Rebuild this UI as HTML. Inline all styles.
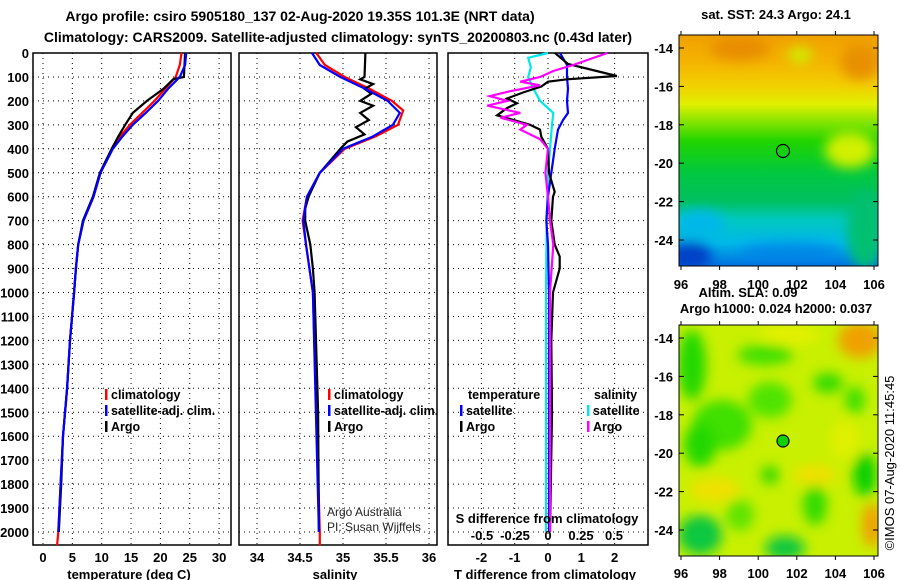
<!DOCTYPE html>
<html><head><meta charset="utf-8"><style>
body{margin:0;background:#fff;}
svg{display:block;font-family:"Liberation Sans",sans-serif;}
.b{font-weight:bold;}
</style></head><body>
<svg id="c" width="900" height="580" viewBox="0 0 900 580">
<defs>
<linearGradient id="sstg" x1="0" y1="0" x2="0" y2="1">
<stop offset="0" stop-color="#f0a000"/><stop offset="0.12" stop-color="#f4b400"/><stop offset="0.22" stop-color="#f2d000"/>
<stop offset="0.3" stop-color="#e0f000"/><stop offset="0.38" stop-color="#80e400"/><stop offset="0.46" stop-color="#20d400"/>
<stop offset="0.6" stop-color="#00c840"/><stop offset="0.72" stop-color="#00c060"/><stop offset="0.8" stop-color="#00c8c0"/>
<stop offset="0.9" stop-color="#00b8e8"/><stop offset="1" stop-color="#0070e0"/></linearGradient>
<filter id="bl" x="-50%" y="-50%" width="200%" height="200%"><feGaussianBlur stdDeviation="6"/></filter>
<clipPath id="cm1"><rect x="679" y="35" width="199" height="231"/></clipPath>
<clipPath id="cm2"><rect x="679" y="325" width="199" height="231"/></clipPath>
</defs>
<g id="root"></g>
</svg>
<script>
// depth levels (m)
const depthTicks=[0,100,200,300,400,500,600,700,800,900,1000,1100,1200,1300,1400,1500,1600,1700,1800,1900,2000];
const tempTicks=[0,5,10,15,20,25,30];
const salTicks=[34,34.5,35,35.5,36];
const tdTicks=[-2,-1,0,1,2];
const sdTicks=[-0.5,-0.25,0,0.25,0.5];
const sdTickLabels=["-0.5","-0.25","0","0.25","0.5"];
// temperature panel
const tArgoD=[0,100,110,150,200,250,300,350,400,500,600,700,800,900,1000,1200,1400,1600,1800,2000];
const tArgoV=[24.2,24.0,22.2,20.5,17.7,15.3,14.0,12.8,11.7,9.7,8.5,6.8,6.0,5.6,5.3,4.6,4.1,3.4,3.1,2.7];
const tClimD=[0,50,100,150,200,250,300,350,400,500,600,700,800,900,1000,1200,1400,1600,1800,2000,2055];
const tClimV=[23.6,23.3,22.6,20.8,19.0,16.9,14.8,13.1,11.8,9.8,8.6,6.9,6.0,5.6,5.3,4.6,4.1,3.4,3.0,2.6,2.4];
const tSatD=[0,50,100,150,200,250,300,350,400,500,600,700,800,900,1000,1200,1400,1600,1800,2000];
const tSatV=[24.4,24.2,23.3,21.3,19.6,17.5,15.3,13.5,11.9,9.8,8.6,6.9,6.0,5.6,5.3,4.6,4.1,3.4,3.0,2.6];
// salinity panel
const sArgoD=[0,100,110,130,150,170,200,220,250,280,310,340,370,400,450,500,600,650,700,800,900,1000,1500,2000];
const sArgoV=[35.26,35.25,35.2,35.35,35.25,35.33,35.2,35.35,35.2,35.3,35.15,35.25,35.05,34.97,34.85,34.73,34.6,34.56,34.56,34.62,34.65,34.67,34.71,34.72];
const sClimD=[0,50,100,150,200,240,300,350,400,500,600,700,800,1000,2000,2055];
const sClimV=[34.69,34.79,35.02,35.31,35.57,35.70,35.64,35.37,35.02,34.73,34.58,34.53,34.57,34.65,34.73,34.73];
const sSatD=[0,50,100,150,200,250,300,350,400,500,600,700,800,1000,2000];
const sSatV=[34.64,34.73,34.97,35.26,35.52,35.66,35.58,35.34,35.0,34.73,34.58,34.54,34.57,34.65,34.72];
// difference panel
const dTArgoD=[0,46,96,110,120,140,165,190,210,230,260,300,320,350,400,500,580,600,700,800,850,900,1000,1200,1500,2000];
const dTArgoV=[0.21,0.6,2.07,0.57,0,-0.2,-0.75,-1.23,-0.93,-1.23,-1.53,-0.54,-0.24,-0.2,0,0.03,0.2,0.15,0.1,0.2,0.35,0.35,0.15,0.1,0.12,0.06];
const dTSatD=[0,50,100,150,200,250,280,320,400,500,600,700,800,1000,1500,2000];
const dTSatV=[0.36,0.57,0.57,0.6,0.57,0.6,0.45,0.3,0.2,0.1,0,-0.05,0,0.03,0.03,0.03];
const dSSatD=[0,20,60,100,150,200,250,300,400,500,700,1000,2000];
const dSSatV=[0,-0.15,-0.13,-0.15,-0.11,-0.06,0.04,0.03,0.015,0,-0.01,-0.015,-0.015];
const dSArgoD=[0,50,75,100,120,135,160,180,200,220,250,270,300,320,360,400,500,600,700,800,1000,1500,2000];
const dSArgoV=[0.45,0.19,0.04,-0.06,-0.21,-0.06,-0.29,-0.44,-0.31,-0.46,-0.21,-0.36,-0.16,-0.21,-0.06,0,-0.02,0,0.015,0.04,0.015,0.015,0.015];

const NS='http://www.w3.org/2000/svg';
const root=document.getElementById('root');
function mk(tag,attrs,parent){const e=document.createElementNS(NS,tag);for(const k in attrs)e.setAttribute(k,attrs[k]);(parent||root).appendChild(e);return e;}
function txt(x,y,s,attrs,parent){const e=mk('text',Object.assign({x:x,y:y},attrs||{}),parent);e.textContent=s;return e;}
const TOP=53, BOT=545;
const yD=d=>TOP+d*0.2395;
const panels=[
 {x0:33,x1:231,sx:v=>43+v*5.87,ticks:tempTicks,labels:tempTicks.map(String),title:'temperature (deg C)',name:'temperature-panel'},
 {x0:239,x1:437,sx:v=>257+(v-34)*86,ticks:salTicks,labels:salTicks.map(String),title:'salinity',name:'salinity-panel'},
 {x0:448,x1:648,sx:v=>548+v*33.3,ticks:tdTicks,labels:tdTicks.map(String),title:'T difference from climatology',name:'difference-panel'}
];
const sS=v=>548+v*132;
panels.forEach((p,pi)=>{
 const g=mk('g',{});
 
 
 depthTicks.forEach(d=>{const l=mk('line',{x1:p.x0,x2:p.x1,y1:yD(d),y2:yD(d),stroke:'#000','stroke-width':1,'stroke-dasharray':'1 4'},g);
  });
 p.ticks.forEach((t,i)=>{const l=mk('line',{x1:p.sx(t),x2:p.sx(t),y1:TOP,y2:BOT,stroke:'#000','stroke-width':1,'stroke-dasharray':'1 4'},g);
  
  const tl=txt(p.sx(t),562,p.labels[i],{'text-anchor':'middle','font-size':13,class:'b'},g);
  });
 const r=mk('rect',{x:p.x0,y:TOP,width:p.x1-p.x0,height:BOT-TOP,fill:'none',stroke:'#000','stroke-width':1.5},g);
 
 const at=txt((p.x0+p.x1)/2-3,579,p.title,{'text-anchor':'middle','font-size':13,class:'b'},g);
 
});
depthTicks.forEach(d=>{const t=txt(29,yD(d)+5,String(d),{'text-anchor':'end','font-size':13,class:'b'});
 });
function line(D,V,sx,col,name,w){const pts=D.map((d,i)=>sx(V[i]).toFixed(1)+','+yD(d).toFixed(1)).join(' ');
 const e=mk('polyline',{points:pts,fill:'none',stroke:col,'stroke-width':w||2.2,'stroke-linejoin':'miter'});
 
 }
const p0=panels[0].sx,p1=panels[1].sx,p2=panels[2].sx;
line(tClimD,tClimV,p0,'#ff0000','temp-climatology-line');
line(tArgoD,tArgoV,p0,'#000','temp-argo-line');
line(tSatD,tSatV,p0,'#0000ff','temp-satellite-line');
line(sClimD,sClimV,p1,'#ff0000','sal-climatology-line');
line(sArgoD,sArgoV,p1,'#000','sal-argo-line');
line(sSatD,sSatV,p1,'#0000ff','sal-satellite-line');
line(dSSatD,dSSatV,sS,'#00e8e8','sdiff-satellite-line');
line(dTSatD,dTSatV,p2,'#0000ff','tdiff-satellite-line');
line(dTArgoD,dTArgoV,p2,'#000','tdiff-argo-line');
line(dSArgoD,dSArgoV,sS,'#ff00ff','sdiff-argo-line');
const sdt=txt(547,523,'S difference from climatology',{'text-anchor':'middle','font-size':13,class:'b'});

sdTicks.forEach((t,i)=>{const e=txt(sS(t),540,sdTickLabels[i],{'text-anchor':'middle','font-size':13,class:'b'});
 });
function leg(x,y,col,label){const g=mk('g',{});
 
 mk('rect',{x:x,y:y-10,width:2.5,height:11,fill:col},g);
 txt(x+6,y,label,{'font-size':12.5,class:'b'},g);}
leg(105,399,'#ff0000','climatology');leg(105,415,'#0000ff','satellite-adj. clim.');leg(105,431,'#000','Argo');
leg(328,399,'#ff0000','climatology');leg(328,415,'#0000ff','satellite-adj. clim.');leg(328,431,'#000','Argo');
const lt=txt(468,399,'temperature',{'font-size':12.5,class:'b'});
leg(460,415,'#0000ff','satellite');leg(460,431,'#000','Argo');
const ls=txt(594,399,'salinity',{'font-size':12.5,class:'b'});
leg(587,415,'#00e8e8','satellite');leg(587,431,'#ff00ff','Argo');
const c1=txt(327,516,'Argo Australia',{'font-size':12,fill:'#222'});
const c2=txt(327,531,'PI: Susan Wijffels',{'font-size':12,fill:'#222'});
const t1=txt(300,21,'Argo profile: csiro 5905180_137 02-Aug-2020 19.35S 101.3E (NRT data)',{'text-anchor':'middle','font-size':14,class:'b'});

const t2=txt(338,42,'Climatology: CARS2009. Satellite-adjusted climatology: synTS_20200803.nc (0.43d later)',{'text-anchor':'middle','font-size':14,class:'b'});

const latTicks=[-14,-16,-18,-20,-22,-24];
const lonTicks=[96,98,100,102,104,106];
const lonX=v=>681+(v-96)*19.3;
function mapAxes(top,latY0,lonLabelY,name){
 const g=mk('g',{});
 latTicks.forEach(l=>{const y=latY0+(-14-l)*19.2;
  txt(673,y+5,String(l),{'text-anchor':'end','font-size':13,class:'b'},g);
  mk('line',{x1:679,x2:684,y1:y,y2:y,stroke:'#000'},g);mk('line',{x1:873,x2:878,y1:y,y2:y,stroke:'#000'},g);});
 lonTicks.forEach(l=>{const x=lonX(l);
  txt(x,lonLabelY,String(l),{'text-anchor':'middle','font-size':13,class:'b'},g);
  mk('line',{x1:x,x2:x,y1:top-4,y2:top,stroke:'#000'},g);mk('line',{x1:x,x2:x,y1:top+231,y2:top+235,stroke:'#000'},g);});
 mk('rect',{x:679,y:top,width:199,height:231,fill:'none',stroke:'#000','stroke-width':1},g);
}
const m1=mk('g',{'clip-path':'url(#cm1)'});
mk('rect',{x:679,y:35,width:199,height:231,fill:'url(#sstg)'},m1);
const b1=mk('g',{filter:'url(#bl)'},m1);
mk('ellipse',{cx:690,cy:256,rx:22,ry:14,fill:'#0040c8'},b1);
mk('ellipse',{cx:790,cy:252,rx:50,ry:10,fill:'#0080e8',opacity:0.7},b1);
mk('ellipse',{cx:865,cy:230,rx:18,ry:40,fill:'#00c070'},b1);
mk('ellipse',{cx:850,cy:150,rx:25,ry:18,fill:'#d0f000'},b1);
mk('ellipse',{cx:740,cy:48,rx:30,ry:12,fill:'#e88c00'},b1);
mk('ellipse',{cx:860,cy:62,rx:20,ry:18,fill:'#e89000'},b1);
mk('ellipse',{cx:800,cy:55,rx:12,ry:8,fill:'#d0f000'},b1);
mk('ellipse',{cx:700,cy:225,rx:25,ry:15,fill:'#00b8e8'},b1);
mk('circle',{cx:783,cy:151,r:6.5,fill:'none',stroke:'#000','stroke-width':1.2},m1);
mapAxes(35,48,289,'sst-map');
const m2=mk('g',{'clip-path':'url(#cm2)'});
mk('rect',{x:679,y:325,width:199,height:231,fill:'#c8f000'},m2);
const b2=mk('g',{filter:'url(#bl)'},m2);
[[692,365,14,35,'#20d800'],[722,425,30,25,'#40e000'],[700,445,16,22,'#20d800'],[770,400,22,18,'#50e400'],[765,355,28,10,'#40e000'],
 [828,383,15,10,'#30dc00'],[855,400,10,14,'#40e000'],[865,475,12,22,'#10d000'],[740,515,14,16,'#60e400'],[700,535,22,20,'#10c840'],
 [785,548,20,12,'#10c840'],[815,505,12,20,'#30dc00'],[770,475,9,9,'#30d800'],
 [860,340,22,18,'#f0a000'],[872,525,10,22,'#f0a000'],[715,490,25,12,'#f0e000'],[815,475,22,10,'#f0e000'],[790,335,30,8,'#e8f000'],[845,440,15,20,'#e0f000']
].forEach(a=>mk('ellipse',{cx:a[0],cy:a[1],rx:a[2],ry:a[3],fill:a[4]},b2));
mk('circle',{cx:783,cy:441,r:6,fill:'#10d000',stroke:'#000','stroke-width':1.2},m2);
mapAxes(325,338,578,'sla-map');
const mt1=txt(776,19,'sat. SST: 24.3 Argo: 24.1',{'text-anchor':'middle','font-size':13,class:'b'});
const mt2=txt(748,297,'Altim. SLA: 0.09',{'text-anchor':'middle','font-size':13,class:'b'});
const mt3=txt(776,313,'Argo h1000: 0.024 h2000: 0.037',{'text-anchor':'middle','font-size':13,class:'b'});
const cp=txt(0,0,'©IMOS 07-Aug-2020 11:45:45',{'text-anchor':'middle','font-size':13,transform:'translate(894,463) rotate(-90)'});

</script>
</body></html>
